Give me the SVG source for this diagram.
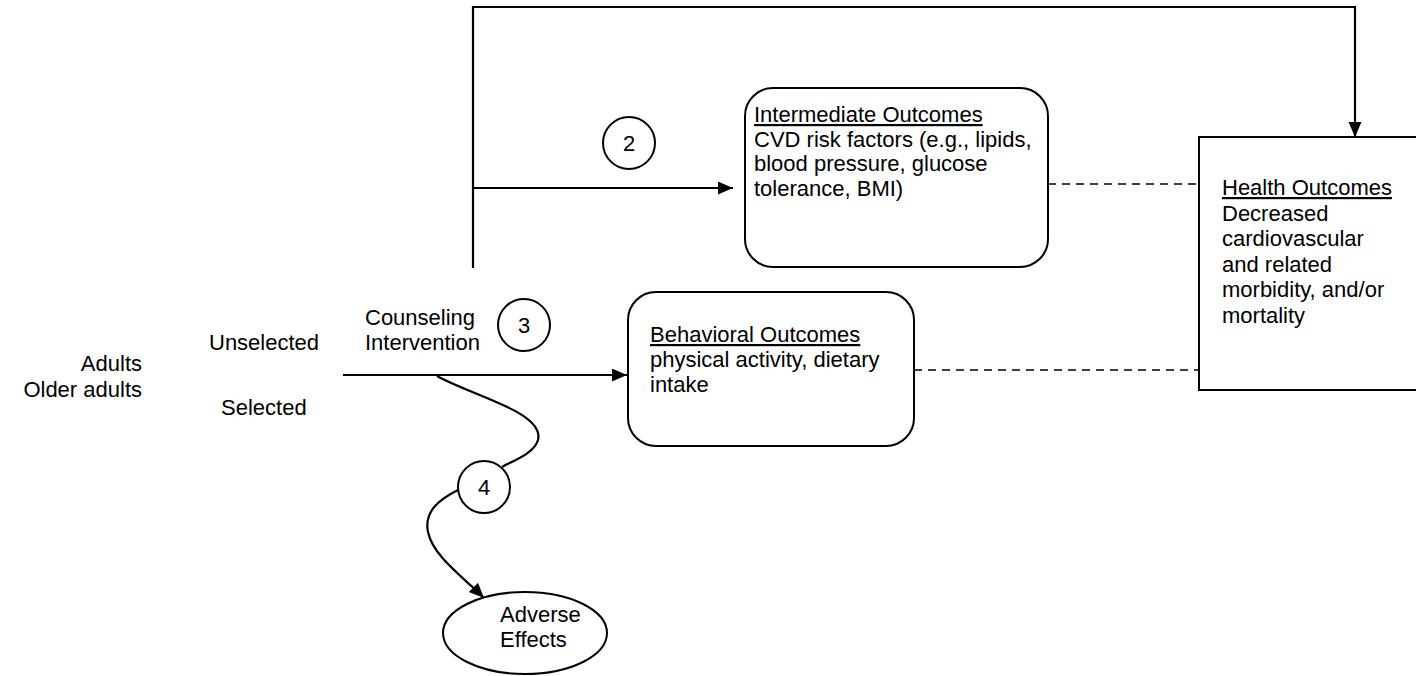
<svg xmlns="http://www.w3.org/2000/svg" width="1416" height="676" viewBox="0 0 1416 676">
<defs>
<style>
text{font-family:"Liberation Sans",Arial,sans-serif;font-size:22px;fill:#000}
.u{text-decoration:underline}
.box{fill:#fff;stroke:#000;stroke-width:2}
.ln{fill:none;stroke:#000;stroke-width:2.2}
.dash{fill:none;stroke:#000;stroke-width:1.6;stroke-dasharray:8 6}
.num{text-anchor:middle}
</style>
<marker id="ah" markerUnits="userSpaceOnUse" markerWidth="16" markerHeight="14" refX="15" refY="6.5" orient="auto">
<path d="M0,0 L15,6.5 L0,13 z" fill="#000"/>
</marker>
</defs>
<rect width="1416" height="676" fill="#fff"/>

<g id="connectors">
<polyline class="ln" points="473,268 473,7 1355,7 1355,137" marker-end="url(#ah)"/>
<line class="ln" x1="473" y1="188" x2="733" y2="188" marker-end="url(#ah)"/>
<line class="ln" x1="343" y1="375" x2="627" y2="375" marker-end="url(#ah)"/>
<line class="dash" x1="1048" y1="184" x2="1199" y2="184"/>
<line class="dash" x1="914" y1="370" x2="1199" y2="370"/>
<path class="ln" d="M437,376 C470,395 545,412 538,440 C534,454 512,461 502,467"/>
<path class="ln" d="M458,490 C438,500 424,512 428,532 C433,556 462,576 484,598" marker-end="url(#ah)"/>
</g>

<g id="population">
<text x="142" y="371" text-anchor="end">Adults</text>
<text x="142" y="397" text-anchor="end">Older adults</text>
<text x="209" y="350">Unselected</text>
<text x="221" y="415">Selected</text>
</g>

<g id="intervention">
<text x="365" y="325">Counseling</text>
<text x="365" y="350">Intervention</text>
</g>

<g id="kq2">
<circle class="box" cx="629" cy="143" r="26"/>
<text class="num" x="629" y="151">2</text>
</g>
<g id="kq3">
<circle class="box" cx="524" cy="325" r="26"/>
<text class="num" x="524" y="333">3</text>
</g>
<g id="kq4">
<circle class="box" cx="484" cy="487" r="26"/>
<text class="num" x="484" y="495">4</text>
</g>

<g id="intermediate">
<rect class="box" x="745" y="88" width="303" height="179" rx="28" ry="28"/>
<text x="754" y="122" class="u">Intermediate Outcomes</text>
<text x="754" y="146.5">CVD risk factors (e.g., lipids,</text>
<text x="754" y="171">blood pressure, glucose</text>
<text x="754" y="195.5">tolerance, BMI)</text>
</g>

<g id="behavioral">
<rect class="box" x="628" y="292" width="286" height="154" rx="28" ry="28"/>
<text x="650" y="342" class="u">Behavioral Outcomes</text>
<text x="650" y="367">physical activity, dietary</text>
<text x="650" y="392">intake</text>
</g>

<g id="health">
<rect class="box" x="1199" y="137" width="260" height="253"/>
<text x="1222" y="195" class="u">Health Outcomes</text>
<text x="1222" y="220.5">Decreased</text>
<text x="1222" y="246">cardiovascular</text>
<text x="1222" y="271.5">and related</text>
<text x="1222" y="297">morbidity, and/or</text>
<text x="1222" y="322.5">mortality</text>
</g>

<g id="adverse">
<ellipse class="box" cx="525" cy="633" rx="82" ry="41"/>
<text x="500" y="622">Adverse</text>
<text x="500" y="647">Effects</text>
</g>
</svg>
